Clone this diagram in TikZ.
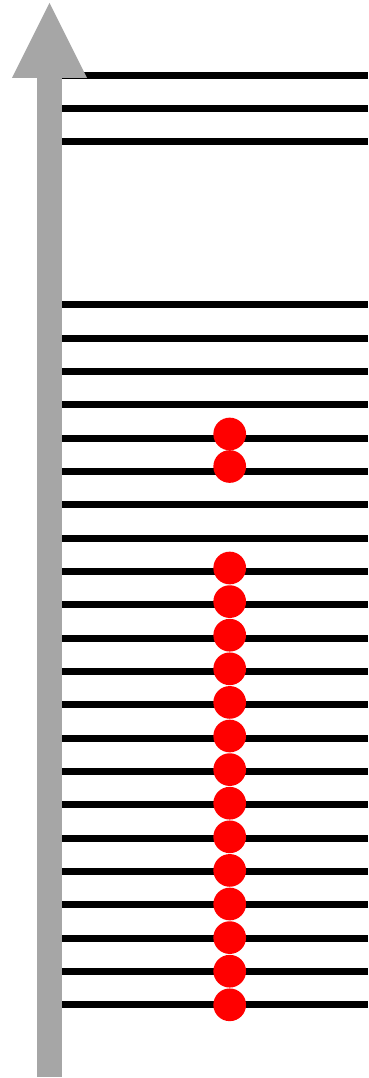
\documentclass[tikz,border=0pt]{standalone}
\usepackage{tikz}
\usetikzlibrary{arrows.meta}
\definecolor{grisaxis}{HTML}{A6A6A6}
\definecolor{rojo}{HTML}{FF0000}
\tikzset{
  axis/.style={draw=grisaxis,line width=25pt,
    -{Triangle[width=75pt,length=75pt,line width=0pt,fill=grisaxis]}},
  rung/.style={draw=black,line width=7pt},
  bead/.style={circle,fill=rojo,draw=none,minimum size=32.7pt,inner sep=0pt}
}
\begin{document}
\begin{tikzpicture}[x=1pt,y=-1pt]
\useasboundingbox (0,0) rectangle (368,1078);

% upper levels
\draw[rung] (62,75.3)--(368,75.3);
\draw[rung] (62,108.7)--(368,108.7);
\draw[rung] (62,142.0)--(368,142.0);

% lower levels
\draw[rung] (62,304.7)--(368,304.7);
\draw[rung] (62,338.0)--(368,338.0);
\draw[rung] (62,371.4)--(368,371.4);
\draw[rung] (62,404.7)--(368,404.7);
\draw[rung] (62,438.0)--(368,438.0);
\draw[rung] (62,471.4)--(368,471.4);
\draw[rung] (62,504.7)--(368,504.7);
\draw[rung] (62,538.0)--(368,538.0);
\draw[rung] (62,571.3)--(368,571.3);
\draw[rung] (62,604.7)--(368,604.7);
\draw[rung] (62,638.0)--(368,638.0);
\draw[rung] (62,671.3)--(368,671.3);
\draw[rung] (62,704.7)--(368,704.7);
\draw[rung] (62,738.0)--(368,738.0);
\draw[rung] (62,771.3)--(368,771.3);
\draw[rung] (62,804.7)--(368,804.7);
\draw[rung] (62,838.0)--(368,838.0);
\draw[rung] (62,871.3)--(368,871.3);
\draw[rung] (62,904.7)--(368,904.7);
\draw[rung] (62,938.0)--(368,938.0);
\draw[rung] (62,971.3)--(368,971.3);
\draw[rung] (62,1004.6)--(368,1004.6);

% axis
\coordinate (axisbot) at (49.5,1077);
\coordinate (axistop) at (49.5,3);
\draw[axis] (axisbot)--(axistop);

% occupied levels
\node[bead] (e1) at (229.7,434.0) {};
\node[bead] (e2) at (229.7,466.5) {};
\node[bead] (e3) at (229.7,568.0) {};
\node[bead] (e4) at (229.7,601.6) {};
\node[bead] (e5) at (229.7,635.2) {};
\node[bead] (e6) at (229.7,668.8) {};
\node[bead] (e7) at (229.7,702.4) {};
\node[bead] (e8) at (229.7,736.0) {};
\node[bead] (e9) at (229.7,769.6) {};
\node[bead] (e10) at (229.7,803.2) {};
\node[bead] (e11) at (229.7,836.8) {};
\node[bead] (e12) at (229.7,870.4) {};
\node[bead] (e13) at (229.7,904.0) {};
\node[bead] (e14) at (229.7,937.6) {};
\node[bead] (e15) at (229.7,971.2) {};
\node[bead] (e16) at (229.7,1004.8) {};
\end{tikzpicture}
\end{document}
